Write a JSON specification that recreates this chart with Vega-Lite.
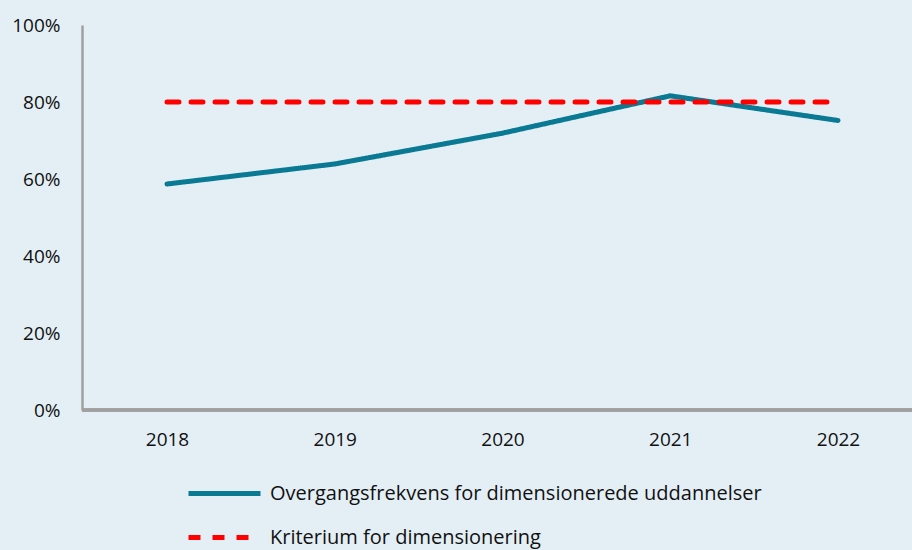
{
  "$schema": "https://vega.github.io/schema/vega-lite/v6.json",
  "width": 830,
  "height": 385,
  "autosize": {"type": "none"},
  "padding": {"left": 82, "top": 25, "right": 0, "bottom": 140},
  "background": "#e4eff5",
  "config": {
    "view": {"stroke": null},
    "font": "Open Sans"
  },
  "data": {
    "values": [
      {"year": "2018", "value": 0.587, "series": "Overgangsfrekvens for dimensionerede uddannelser"},
      {"year": "2019", "value": 0.639, "series": "Overgangsfrekvens for dimensionerede uddannelser"},
      {"year": "2020", "value": 0.719, "series": "Overgangsfrekvens for dimensionerede uddannelser"},
      {"year": "2021", "value": 0.816, "series": "Overgangsfrekvens for dimensionerede uddannelser"},
      {"year": "2022", "value": 0.752, "series": "Overgangsfrekvens for dimensionerede uddannelser"},
      {"year": "2018", "value": 0.8, "series": "Kriterium for dimensionering"},
      {"year": "2019", "value": 0.8, "series": "Kriterium for dimensionering"},
      {"year": "2020", "value": 0.8, "series": "Kriterium for dimensionering"},
      {"year": "2021", "value": 0.8, "series": "Kriterium for dimensionering"},
      {"year": "2022", "value": 0.8, "series": "Kriterium for dimensionering"}
    ]
  },
  "layer": [
    {
      "mark": {"type": "rule", "color": "#a0a0a0", "strokeWidth": 2.5},
      "encoding": {"y": {"datum": 0, "type": "quantitative"}}
    },
    {
      "mark": {"type": "line", "strokeWidth": 5, "strokeCap": "round", "strokeJoin": "round"},
      "encoding": {
        "x": {
          "field": "year",
          "type": "ordinal",
          "scale": {"type": "point", "range": [85, 756], "padding": 0},
          "axis": {"title": null, "domain": false, "ticks": false, "labelAngle": 0, "labelPadding": 20, "labelFontSize": 19, "labelColor": "#111111"}
        },
        "y": {
          "field": "value",
          "type": "quantitative",
          "scale": {"domain": [0, 1], "nice": false},
          "axis": {"title": null, "format": ".0%", "values": [0, 0.2, 0.4, 0.6, 0.8, 1], "grid": false, "ticks": false, "domain": true, "domainColor": "#a0a0a0", "domainWidth": 2.5, "labelPadding": 22, "labelFontSize": 19, "labelColor": "#111111"}
        },
        "color": {
          "field": "series",
          "type": "nominal",
          "scale": {"domain": ["Overgangsfrekvens for dimensionerede uddannelser", "Kriterium for dimensionering"], "range": ["#0a7a94", "#ff0000"]},
          "legend": {"title": null, "orient": "none", "legendX": 131, "legendY": 457, "direction": "vertical", "symbolType": "M-4,0H4", "symbolSize": 324, "symbolStrokeWidth": 5, "labelFontSize": 20, "labelColor": "#111111", "labelLimit": 0, "rowPadding": 22, "labelOffset": 34}
        },
        "strokeDash": {
          "field": "series",
          "type": "nominal",
          "scale": {"domain": ["Overgangsfrekvens for dimensionerede uddannelser", "Kriterium for dimensionering"], "range": [[1, 0], [12, 12]]},
          "legend": {"title": null, "orient": "none", "legendX": 131, "legendY": 457, "direction": "vertical", "symbolType": "M-4,0H4", "symbolSize": 324, "symbolStrokeWidth": 5, "labelFontSize": 20, "labelColor": "#111111", "labelLimit": 0, "rowPadding": 22, "labelOffset": 34}
        }
      }
    }
  ]
}
